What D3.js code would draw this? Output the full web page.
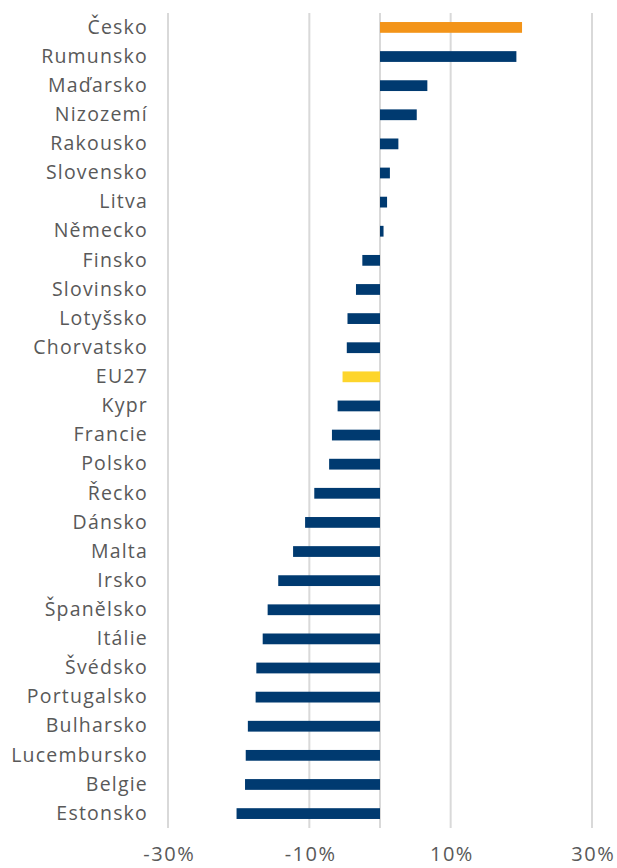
<!DOCTYPE html>
<html>
<head>
<meta charset="utf-8">
<script src="https://cdn.jsdelivr.net/npm/d3@7"></script>
<style>
  body { margin: 0; background: #fff; }
  text { font-family: "Open Sans", sans-serif; fill: #595959; }
</style>
</head>
<body>
<svg width="617" height="868"></svg>
<script>
var countries = ["Česko", "Rumunsko", "Maďarsko", "Nizozemí", "Rakousko", "Slovensko", "Litva",
  "Německo", "Finsko", "Slovinsko", "Lotyšsko", "Chorvatsko", "EU27", "Kypr", "Francie", "Polsko",
  "Řecko", "Dánsko", "Malta", "Irsko", "Španělsko", "Itálie", "Švédsko", "Portugalsko",
  "Bulharsko", "Lucembursko", "Belgie", "Estonsko"];
var values = [20.1, 19.3, 6.7, 5.2, 2.6, 1.4, 1.0, 0.5, -2.5, -3.4, -4.6, -4.7, -5.3, -6.0,
  -6.8, -7.2, -9.3, -10.6, -12.3, -14.4, -15.9, -16.6, -17.5, -17.6, -18.7, -19.0, -19.1, -20.3];
var tickValues = [-30, -10, 10, 30];

var svg = d3.select("svg"),
    margin = {top: 13, right: 25, bottom: 40, left: 168},
    width = +svg.attr("width") - margin.left - margin.right,
    height = +svg.attr("height") - margin.top - margin.bottom;

var x = d3.scaleLinear().domain([-30, 30]).range([0, width]),
    y = d3.scaleBand().domain(countries).range([0, height]).paddingInner(0.63).paddingOuter(0.31);

var colour = function(name) {
  if (name === "Česko") return "#f39419";
  if (name === "EU27") return "#fdd52c";
  return "#003a70";
};

var g = svg.append("g")
    .attr("transform", "translate(" + margin.left + "," + margin.top + ")");

// gridlines (incl. zero line)
g.selectAll(".grid")
    .data(tickValues.concat([0]))
  .enter().append("line")
    .attr("x1", function(d) { return x(d); })
    .attr("x2", function(d) { return x(d); })
    .attr("y1", 0)
    .attr("y2", height)
    .attr("stroke", "#d9d9d9")
    .attr("stroke-width", 2);

g.selectAll(".bar")
    .data(countries)
  .enter().append("rect")
    .attr("x", function(d, i) { return x(Math.min(0, values[i])); })
    .attr("y", function(d) { return y(d); })
    .attr("width", function(d, i) { return Math.abs(x(values[i]) - x(0)); })
    .attr("height", y.bandwidth())
    .attr("fill", colour);

// category labels (letter-spacing adds trailing space, so padding is a bit smaller)
var yAxis = g.append("g")
    .call(d3.axisLeft(y).tickSize(0).tickPadding(20));
yAxis.select(".domain").remove();
yAxis.selectAll("text").style("font-size", "19.5px").style("letter-spacing", "1.2px").attr("fill", "#595959");

var xAxis = g.append("g")
    .attr("transform", "translate(0," + height + ")")
    .call(d3.axisBottom(x).tickValues(tickValues).tickSize(0).tickPadding(19)
      .tickFormat(function(d) { return d + "%"; }));
xAxis.select(".domain").remove();
xAxis.selectAll("text").style("font-size", "20px").style("letter-spacing", "1.5px").attr("fill", "#595959")
    .attr("dx", "0.75px")
    .text(function(d) { return (d < 0 ? "-" : "") + Math.abs(d) + "%"; });
</script>
</body>
</html>
